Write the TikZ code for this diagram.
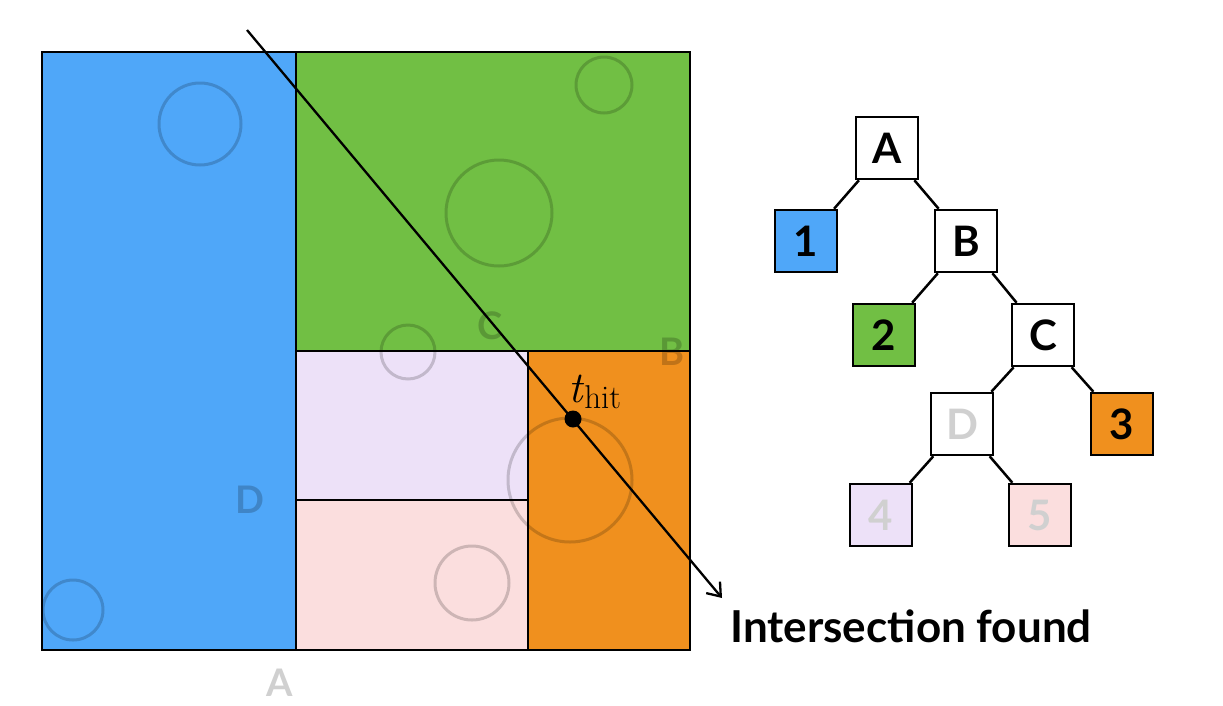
\documentclass[tikz,border=0pt]{standalone}
\usepackage{fontspec}
\setmainfont{Lato}
\newfontfamily\lmrom{Latin Modern Roman}
\usetikzlibrary{arrows.meta}
\definecolor{cblue}{HTML}{4FA7F9}
\definecolor{cgreen}{HTML}{71BF44}
\definecolor{corange}{HTML}{F0901E}
\definecolor{clav}{HTML}{EDE1F8}
\definecolor{cpink}{HTML}{FBDEDE}
\definecolor{cfaint}{HTML}{D0D0D0}
\begin{document}
\begin{tikzpicture}[x=1pt,y=-1pt,
  frame/.style={draw=black,line width=2.8pt},
  bub/.style={draw=black,draw opacity=0.18,line width=3pt},
  reg/.style={font=\bfseries\fontsize{38}{40}\selectfont,text=black,text opacity=0.2},
  tnode/.style={draw,line width=2.5pt,minimum size=62pt,inner sep=0pt,fill=white,font=\bfseries\fontsize{42}{44}\selectfont},
  tedge/.style={line width=2.5pt}]
\useasboundingbox (0,0) rectangle (1223,705);
% regions
\fill[cblue] (42,52) rectangle (296,650);
\fill[cgreen] (296,52) rectangle (690,351);
\fill[clav] (296,351) rectangle (528,500);
\fill[cpink] (296,500) rectangle (528,650);
\fill[corange] (528,351) rectangle (690,650);
% bubbles
\draw[bub] (200,124) circle (41);
\draw[bub] (604,85) circle (28);
\draw[bub] (499,213) circle (53);
\draw[bub] (408,352) circle (27);
\draw[bub] (570,480) circle (62);
\draw[bub] (472,583) circle (37);
\draw[bub] (73,610) circle (30);
% borders
\draw[frame] (42,52) rectangle (690,650);
\draw[frame] (296,52) -- (296,650);
\draw[frame] (296,351) -- (690,351);
\draw[frame] (528,351) -- (528,650);
\draw[frame] (296,500) -- (528,500);
% region labels
\node[reg] (lc) at (490,326) {C};
\node[reg] (lb) at (672,352) {B};
\node[reg] (ld) at (250,500) {D};
\node[font=\bfseries\fontsize{38}{40}\selectfont,text=cfaint] (la) at (280,683) {A};
% ray
\coordinate (rs) at (247,30);
\coordinate (re) at (722,598);
\coordinate (hit) at (573,419);
\draw[line width=2.3pt,-{Straight Barb[length=12pt,width=18pt,line width=2.3pt]}] (rs) -- (re);
\fill (hit) circle (8.5);
\node[font=\lmrom\fontsize{44}{48}\selectfont,inner sep=0pt,anchor=base west] (th) at (568,402) {\textit{t}\raisebox{-6pt}{\fontsize{33}{34}\selectfont hit}};
\node[font=\bfseries\fontsize{44}{48}\selectfont] (msg) at (911,626) {Intersection found};
% tree
\node[tnode] (A) at (887,148) {A};
\node[tnode,fill=cblue] (n1) at (806,241) {1};
\node[tnode] (B) at (966,241) {B};
\node[tnode,fill=cgreen] (n2) at (884,335) {2};
\node[tnode] (C) at (1043,335) {C};
\node[tnode,text=cfaint] (D) at (962,424) {D};
\node[tnode,fill=corange] (n3) at (1122,424) {3};
\node[tnode,fill=clav,text=cfaint] (n4) at (881,515) {4};
\node[tnode,fill=cpink,text=cfaint] (n5) at (1040,515) {5};
\draw[tedge] (A) -- (n1);
\draw[tedge] (A) -- (B);
\draw[tedge] (B) -- (n2);
\draw[tedge] (B) -- (C);
\draw[tedge] (C) -- (D);
\draw[tedge] (C) -- (n3);
\draw[tedge] (D) -- (n4);
\draw[tedge] (D) -- (n5);
\end{tikzpicture}
\end{document}
